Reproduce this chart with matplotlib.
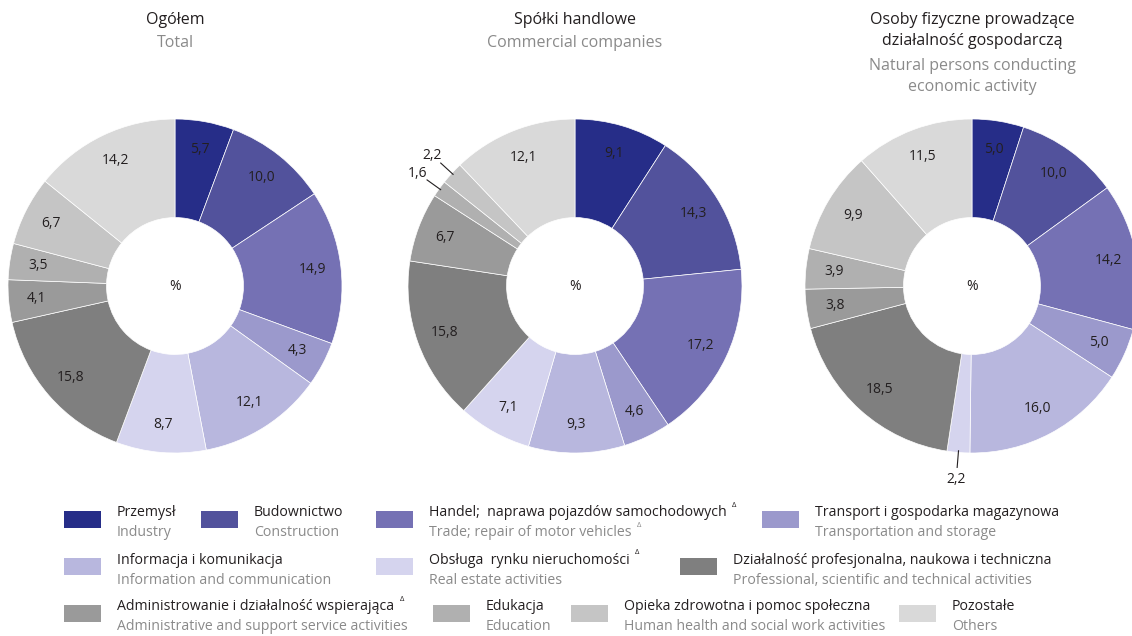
import numpy as np
import matplotlib.pyplot as plt
from matplotlib.patches import Rectangle

plt.rcParams['font.family'] = ['Open Sans', 'DejaVu Sans']

# categories (same order in every ring and in the legend)
labels_pl = ['Przemysł', 'Budownictwo', 'Handel;  naprawa pojazdów samochodowych',
             'Transport i gospodarka magazynowa', 'Informacja i komunikacja',
             'Obsługa  rynku nieruchomości',
             'Działalność profesjonalna, naukowa i techniczna',
             'Administrowanie i działalność wspierająca', 'Edukacja',
             'Opieka zdrowotna i pomoc społeczna', 'Pozostałe']
labels_en = ['Industry', 'Construction', 'Trade; repair of motor vehicles',
             'Transportation and storage', 'Information and communication',
             'Real estate activities', 'Professional, scientific and technical activities',
             'Administrative and support service activities', 'Education',
             'Human health and social work activities', 'Others']
delta_pl = [False, False, True, False, False, True, False, True, False, False, False]
delta_en = [False, False, True, False, False, False, False, False, False, False, False]
colors = ['#262d88', '#52529c', '#7571b4', '#9b99cc', '#b8b7de', '#d5d4ee',
          '#7f7f7f', '#9a9a9a', '#b0b0b0', '#c5c5c5', '#d9d9d9']

total = [5.7, 10.0, 14.9, 4.3, 12.1, 8.7, 15.8, 4.1, 3.5, 6.7, 14.2]
companies = [9.1, 14.3, 17.2, 4.6, 9.3, 7.1, 15.8, 6.7, 1.6, 2.2, 12.1]
persons = [5.0, 10.0, 14.2, 5.0, 16.0, 2.2, 18.5, 3.8, 3.9, 9.9, 11.5]
series = [total, companies, persons]

titles_pl = ['Ogółem', 'Spółki handlowe', 'Osoby fizyczne prowadzące\ndziałalność gospodarczą']
titles_en = ['Total', 'Commercial companies', 'Natural persons conducting\neconomic activity']

W, H = 1132, 636
fig = plt.figure(figsize=(W / 100, H / 100), dpi=100)
ax = fig.add_axes([0, 0, 1, 1])

R = 167
centers_x = [175, 575, 972]
cy = H - 286
dark = '#231f20'
grey = '#8a8a8a'

for vals, cx in zip(series, centers_x):
    ax.pie(vals, colors=colors, startangle=90, counterclock=False, radius=R,
           center=(cx, cy), wedgeprops=dict(width=R * 0.59, edgecolor='white', linewidth=0.5))
    ax.text(cx, cy, '%', ha='center', va='center', fontsize=10, color=dark)
    cum = 0
    for v in vals:
        ang = np.deg2rad(90 - 360 * (cum + v / 2) / 100)
        cum += v
        s = f'{v:.1f}'.replace('.', ',')
        if v < 3:
            c, sn = np.cos(ang), np.sin(ang)
            ax.plot([cx + R * 0.99 * c, cx + R * 1.09 * c], [cy + R * 0.99 * sn, cy + R * 1.09 * sn],
                    color=dark, lw=0.8)
            ax.text(cx + R * 1.16 * c, cy + R * 1.16 * sn, s, ha='center', va='center',
                    fontsize=10, color=dark)
        else:
            ax.text(cx + R * 0.83 * np.cos(ang), cy + R * 0.83 * np.sin(ang), s,
                    ha='center', va='center', fontsize=10, color=dark)

# titles
for cx, tp, te in zip(centers_x, titles_pl, titles_en):
    n = tp.count('\n') + 1
    ax.text(cx, H - 12, tp, ha='center', va='top', fontsize=11.5, color=dark, linespacing=1.45)
    ax.text(cx, H - 12 - 23 * n, te, ha='center', va='top', fontsize=11.5, color=grey, linespacing=1.45)

# legend
leg_x = [64, 201, 376, 762, 64, 376, 680, 64, 433, 571, 899]
leg_row = [0, 0, 0, 0, 1, 1, 1, 2, 2, 2, 2]
row_y = [519, 566, 613]
for i in range(len(colors)):
    x = leg_x[i]
    y = H - row_y[leg_row[i]]
    ax.add_patch(Rectangle((x, y - 8.5), 37, 17, facecolor=colors[i], edgecolor='none'))
    tp = ax.text(x + 53, y + 6, labels_pl[i], ha='left', va='center', fontsize=10.2, color=dark)
    te = ax.text(x + 53, y - 14, labels_en[i], ha='left', va='center', fontsize=10.2, color=grey)
    for t, flag, col in ((tp, delta_pl[i], dark), (te, delta_en[i], grey)):
        if flag:
            ax.annotate('Δ', xy=(1, 0.75), xycoords=t, xytext=(4, 0), textcoords='offset points',
                        ha='left', va='bottom', fontsize=5.5, color=col)

ax.set_xlim(0, W)
ax.set_ylim(0, H)
ax.set_aspect('equal')
ax.axis('off')
fig.savefig('out.png', dpi=100)
